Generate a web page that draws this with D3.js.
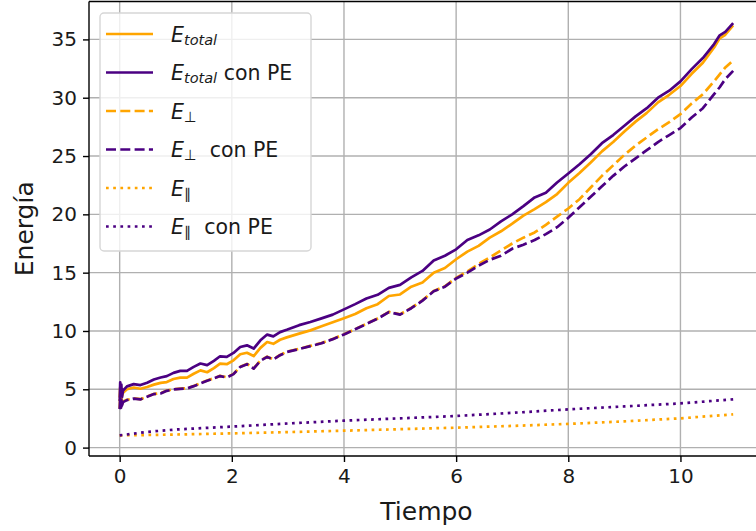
<!DOCTYPE html>
<html>
<head>
<meta charset="utf-8">
<script src="https://cdn.jsdelivr.net/npm/d3@7"></script>
<style>
  html, body { margin: 0; padding: 0; background: #ffffff; }
  svg { display: block; font-family: "DejaVu Sans", sans-serif; }
</style>
</head>
<body>
<svg id="chart" width="756" height="531"></svg>
<script>
// ---------- data ----------
const tiempo = [0, 0.01, 0.02, 0.03, 0.04, 0.06, 0.13, 0.25, 0.37, 0.49, 0.61, 0.73, 0.84, 0.96, 1.08, 1.20,
  1.32, 1.44, 1.56, 1.68, 1.79, 1.91, 2.03, 2.15, 2.27, 2.39, 2.51, 2.63, 2.74, 2.86, 2.98,
  3.2, 3.4, 3.6, 3.8, 4.0, 4.2, 4.4, 4.6, 4.8, 5.0, 5.2, 5.4, 5.6, 5.8, 6.0, 6.2, 6.4, 6.6, 6.8,
  7.0, 7.2, 7.4, 7.6, 7.8, 8.0, 8.2, 8.4, 8.6, 8.8, 9.0, 9.2, 9.4, 9.6, 9.8, 10.0, 10.2, 10.4,
  10.6, 10.7, 10.8, 10.94];

const eTotal = [4.3, 5.2, 3.8, 4.9, 4.4, 4.7, 5.0, 5.15, 5.05, 5.2, 5.4, 5.55, 5.62, 5.88, 6.0, 6.0,
  6.33, 6.62, 6.46, 6.82, 7.2, 7.15, 7.48, 8.0, 8.13, 7.85, 8.55, 9.05, 8.9, 9.25, 9.45,
  9.77, 10.05, 10.4, 10.75, 11.1, 11.45, 11.95, 12.3, 13.0, 13.13, 13.8, 14.15, 15.0, 15.4, 16.15, 16.8, 17.3, 18.0, 18.55,
  19.2, 19.89, 20.45, 21.05, 21.74, 22.7, 23.55, 24.45, 25.4, 26.2, 27.1, 27.95, 28.7, 29.6, 30.25, 31.0, 32.05, 33.0,
  34.3, 35.1, 35.4, 36.2];

const eTotalPE = [4.0, 5.6, 3.4, 5.4, 4.3, 4.9, 5.25, 5.44, 5.36, 5.56, 5.84, 6.01, 6.13, 6.41, 6.58, 6.58,
  6.92, 7.21, 7.07, 7.44, 7.83, 7.78, 8.12, 8.63, 8.77, 8.49, 9.2, 9.69, 9.54, 9.9, 10.1,
  10.5, 10.77, 11.08, 11.4, 11.85, 12.3, 12.78, 13.1, 13.7, 13.95, 14.6, 15.15, 16.04, 16.45, 17.0, 17.8, 18.2, 18.7, 19.4,
  20.0, 20.7, 21.45, 21.85, 22.73, 23.5, 24.3, 25.15, 26.1, 26.8, 27.6, 28.4, 29.1, 30.0, 30.6, 31.4, 32.45, 33.4,
  34.6, 35.35, 35.65, 36.4];

const ePerp = [3.35, 4.4, 3.25, 4.15, 3.65, 3.95, 4.1, 4.22, 4.15, 4.38, 4.6, 4.66, 4.89, 5.01, 5.06, 5.09,
  5.29, 5.52, 5.75, 5.95, 6.15, 6.03, 6.32, 6.94, 7.17, 6.8, 7.46, 7.8, 7.57, 7.94, 8.22,
  8.47, 8.72, 8.97, 9.32, 9.72, 10.17, 10.62, 11.07, 11.64, 11.43, 11.98, 12.63, 13.43, 13.83, 14.55, 15.1, 15.75, 16.3, 16.9,
  17.5, 18.0, 18.45, 19.1, 19.8, 20.5, 21.3, 22.3, 23.3, 24.2, 25.1, 25.9, 26.6, 27.3, 27.9, 28.6, 29.5, 30.3,
  31.4, 32.0, 32.6, 33.2];

const ePerpPE = [3.3, 4.4, 3.2, 4.1, 3.6, 3.9, 4.07, 4.2, 4.13, 4.36, 4.59, 4.64, 4.87, 4.99, 5.04, 5.07,
  5.27, 5.5, 5.73, 5.93, 6.13, 6.01, 6.3, 6.92, 7.15, 6.78, 7.44, 7.78, 7.55, 7.92, 8.2,
  8.45, 8.7, 8.95, 9.3, 9.7, 10.15, 10.6, 11.05, 11.62, 11.4, 11.95, 12.6, 13.4, 13.8, 14.5, 15.0, 15.6, 16.1, 16.45,
  17.05, 17.4, 17.8, 18.3, 18.9, 19.7, 20.6, 21.5, 22.4, 23.3, 24.1, 24.8, 25.5, 26.2, 26.8, 27.4, 28.3, 29.1,
  30.3, 30.9, 31.6, 32.3];

const tiempoPar = [0, 0.5, 1, 2, 3, 4, 5, 6, 7, 8, 9, 10, 10.94];
const ePar   = [1.05, 1.08, 1.12, 1.22, 1.33, 1.45, 1.58, 1.71, 1.86, 2.03, 2.25, 2.51, 2.85];
const eParPE = [1.05, 1.35, 1.55, 1.8, 2.07, 2.31, 2.51, 2.71, 2.98, 3.28, 3.53, 3.79, 4.14];

const xTicks = [0, 2, 4, 6, 8, 10];
const yTicks = [0, 5, 10, 15, 20, 25, 30, 35];

// ---------- layout ----------
const svg = d3.select("#chart");
const mLeft = 89, mRight = 764, mTop = 1.5, mBottom = 456;
const ORANGE = "#ffa500", PURPLE = "#4b0082", TEXT = "#1a1a1a";

const x = d3.scaleLinear().domain([-0.547, 11.49]).range([mLeft, mRight]);
const y = d3.scaleLinear().domain([-0.72, 38.25]).range([mBottom, mTop]);

svg.append("rect").attr("width", 756).attr("height", 531).attr("fill", "#fff");

svg.append("defs").append("clipPath").attr("id", "plotclip")
  .append("rect").attr("x", mLeft).attr("y", mTop).attr("width", mRight - mLeft).attr("height", mBottom - mTop);

// grid
const grid = svg.append("g");
grid.selectAll(".gx").data(xTicks).join("line")
  .attr("x1", d => x(d)).attr("x2", d => x(d)).attr("y1", mTop).attr("y2", mBottom)
  .attr("stroke", "#b0b0b0").attr("stroke-width", 1.4);
grid.selectAll(".gy").data(yTicks).join("line")
  .attr("x1", mLeft).attr("x2", mRight).attr("y1", d => y(d)).attr("y2", d => y(d))
  .attr("stroke", "#b0b0b0").attr("stroke-width", 1.4);

// series
const series = [
  { t: tiempo, v: eTotal, color: ORANGE, dash: null },
  { t: tiempo, v: eTotalPE, color: PURPLE, dash: null },
  { t: tiempo, v: ePerp, color: ORANGE, dash: "10,4.3" },
  { t: tiempo, v: ePerpPE, color: PURPLE, dash: "10,4.3" },
  { t: tiempoPar, v: ePar, color: ORANGE, dash: "2.7,4.5" },
  { t: tiempoPar, v: eParPE, color: PURPLE, dash: "2.7,4.5" }
];
const line = d3.line().x(d => x(d[0])).y(d => y(d[1]));
const plot = svg.append("g").attr("clip-path", "url(#plotclip)");
series.forEach(s => {
  plot.append("path")
    .datum(s.t.map((t, i) => [t, s.v[i]]))
    .attr("d", line)
    .attr("fill", "none")
    .attr("stroke", s.color)
    .attr("stroke-width", 2.7)
    .attr("stroke-linejoin", "round")
    .attr("stroke-dasharray", s.dash);
});

// axes
const xAxis = svg.append("g").attr("transform", `translate(0,${mBottom})`)
  .call(d3.axisBottom(x).tickValues(xTicks).tickSize(6).tickPadding(7).tickFormat(d3.format("d")));
const yAxis = svg.append("g").attr("transform", `translate(${mLeft},0)`)
  .call(d3.axisLeft(y).tickValues(yTicks).tickSize(6).tickPadding(6).tickFormat(d3.format("d")));
[xAxis, yAxis].forEach(a => {
  a.selectAll(".domain").remove();
  a.selectAll(".tick line").attr("stroke", "#000").attr("stroke-width", 1.4);
  a.selectAll(".tick text").attr("fill", TEXT).attr("font-size", 20)
    .attr("font-family", "DejaVu Sans, sans-serif");
});
// spines (left, bottom, top; right is outside the picture)
svg.append("line").attr("x1", mLeft).attr("x2", mLeft).attr("y1", mTop).attr("y2", mBottom)
  .attr("stroke", "#000").attr("stroke-width", 1.4);
svg.append("line").attr("x1", mLeft).attr("x2", mRight).attr("y1", mBottom).attr("y2", mBottom)
  .attr("stroke", "#000").attr("stroke-width", 1.4);
svg.append("line").attr("x1", mLeft).attr("x2", mRight).attr("y1", mTop).attr("y2", mTop)
  .attr("stroke", "#000").attr("stroke-width", 1.4);

// axis labels
svg.append("text").attr("x", (mLeft + mRight) / 2).attr("y", 520)
  .attr("text-anchor", "middle").attr("font-size", 25).attr("fill", TEXT).text("Tiempo");
svg.append("text").attr("transform", `translate(33,${(mTop + mBottom) / 2}) rotate(-90)`)
  .attr("text-anchor", "middle").attr("font-size", 25).attr("fill", TEXT).text("Energía");

// legend
const legendItems = [
  { sub: "total", subItalic: true, extra: "", color: ORANGE, dash: null },
  { sub: "total", subItalic: true, extra: " con PE", color: PURPLE, dash: null },
  { sub: "⊥", subItalic: false, extra: "", color: ORANGE, dash: "10,4.3" },
  { sub: "⊥", subItalic: false, extra: "  con PE", color: PURPLE, dash: "10,4.3" },
  { sub: "∥", subItalic: false, extra: "", color: ORANGE, dash: "2.7,4.5" },
  { sub: "∥", subItalic: false, extra: "  con PE", color: PURPLE, dash: "2.7,4.5" }
];
const lg = svg.append("g");
lg.append("rect").attr("x", 100).attr("y", 13).attr("width", 211).attr("height", 238)
  .attr("rx", 4).attr("fill", "#ffffff").attr("fill-opacity", 0.8)
  .attr("stroke", "#d6d6d6").attr("stroke-width", 1.4);
legendItems.forEach((it, i) => {
  const cy = 34 + 38.5 * i;
  lg.append("line").attr("x1", 106).attr("x2", 153).attr("y1", cy).attr("y2", cy)
    .attr("stroke", it.color).attr("stroke-width", 2.7).attr("stroke-dasharray", it.dash);
  const tx = lg.append("text").attr("x", 171).attr("y", cy + 7.5)
    .attr("font-size", 20.5).attr("fill", TEXT).attr("xml:space", "preserve");
  tx.append("tspan").attr("font-style", "italic").text("E");
  tx.append("tspan").attr("font-size", 14.5).attr("dy", 3)
    .attr("font-style", it.subItalic ? "italic" : "normal").text(it.sub);
  if (it.extra) tx.append("tspan").attr("dy", -3).text(it.extra);
});
</script>
</body>
</html>
